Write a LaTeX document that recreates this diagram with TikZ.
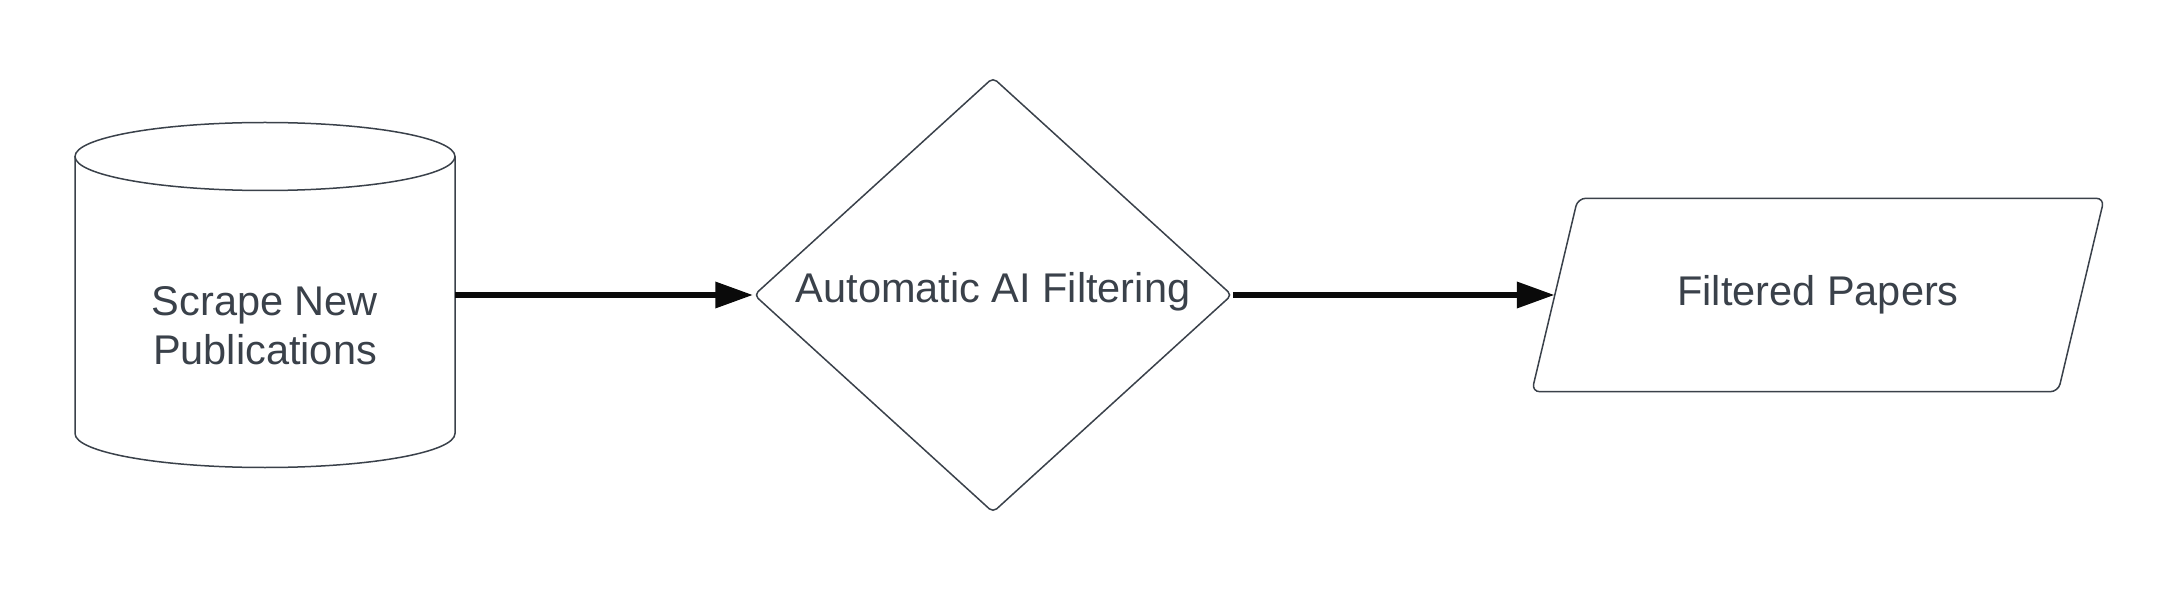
\documentclass[tikz,border=0pt]{standalone}
\usepackage{fontspec}
\setmainfont{Liberation Sans}
\usetikzlibrary{arrows.meta,shapes.geometric,calc}
\definecolor{ink}{HTML}{3A414A}
\definecolor{arrowc}{HTML}{0A0A0A}
\begin{document}
\begin{tikzpicture}[x=1pt,y=-1pt,
  shapeline/.style={draw=ink, line width=1.5pt, fill=white},
  lbl/.style={text=ink, font=\fontsize{41.5}{49}\selectfont, align=center, inner sep=0pt},
  flow/.style={draw=arrowc, line width=6.5pt, -{Triangle[length=38pt,width=25pt]}}]
\useasboundingbox[fill=white] (0,0) rectangle (2181,593);
% source cylinder
\node[minimum width=380pt, minimum height=345pt, inner sep=0pt] (src) at (265,295) {};
\draw[shapeline] (75,156.5) -- (75,433.5) arc[start angle=180,end angle=0,x radius=190,y radius=34] -- (455,156.5);
\draw[shapeline] (265,156.5) ellipse[x radius=190, y radius=34];
\node[lbl] (srclbl) at (265,325.5) {Scrape New\\Publications};
% decision diamond
\node[diamond, shapeline, rounded corners=5pt, aspect=1.1, minimum width=478pt, minimum height=435pt, inner sep=0pt] (dec) at (993,295) {};
\node[lbl] (declbl) at (993,291.4) {Automatic AI Filtering};
% output parallelogram
\node[minimum width=526pt, minimum height=193pt, inner sep=0pt] (out) at (1818,295) {};
\draw[shapeline, rounded corners=8pt] ($(out.south west)+(-23,0)$) -- ($(out.north west)+(23,0)$) -- ($(out.north east)+(23,0)$) -- ($(out.south east)+(-23,0)$) -- cycle;
\node[lbl] (outlbl) at (1818,294.7) {Filtered Papers};
% connectors
\draw[flow] (src.east) -- (dec.west);
\draw[flow] (dec.east) -- (out.west);
\end{tikzpicture}
\end{document}
